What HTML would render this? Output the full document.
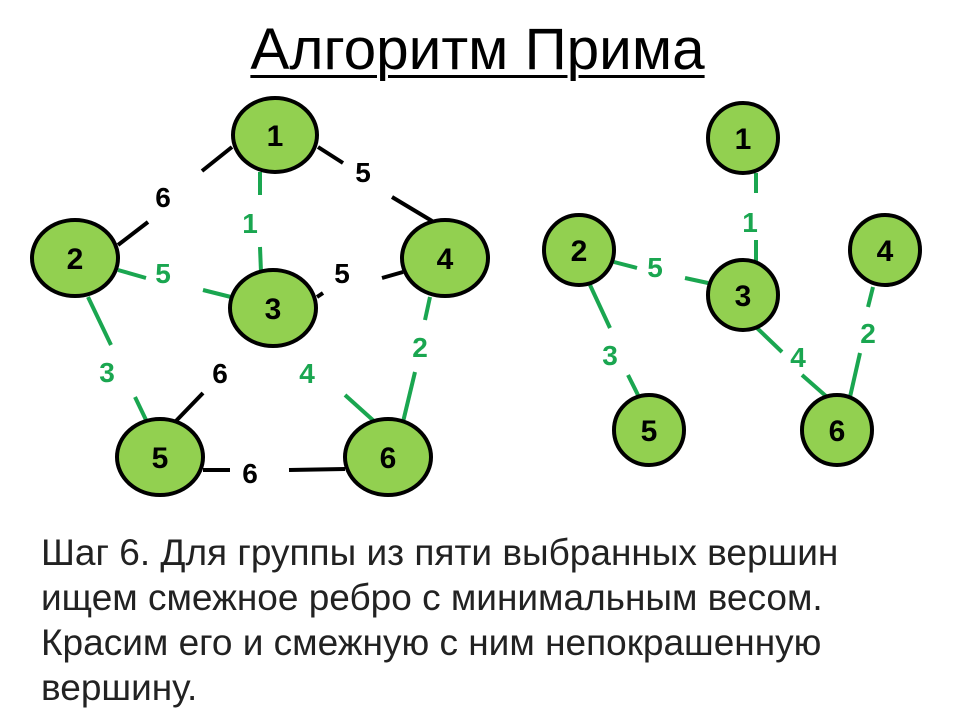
<!DOCTYPE html>
<html><head><meta charset="utf-8"><style>
body{margin:0;background:#fff;width:960px;height:720px;overflow:hidden;position:relative;font-family:"Liberation Sans",sans-serif}
.t{position:absolute;left:0;width:955px;top:21px;text-align:center;font-size:58.5px;line-height:58px;text-decoration:underline;text-decoration-thickness:3px;text-underline-offset:6px;color:#000}
.b{position:absolute;left:41px;top:530px;font-size:37px;line-height:45px;color:#222;white-space:nowrap}
</style></head><body>
<div class="t">Алгоритм Прима</div>
<svg width="960" height="720" style="position:absolute;left:0;top:0" font-family="Liberation Sans" font-weight="bold">
<g stroke-width="4" fill="none">
<g stroke="#000">
<line x1="202" y1="171" x2="232" y2="147"/><line x1="118" y1="245" x2="148" y2="222"/>
<line x1="318" y1="147" x2="343" y2="163"/><line x1="392" y1="197" x2="432" y2="221"/>
<line x1="382" y1="278" x2="403" y2="272"/><line x1="317" y1="297" x2="323" y2="293"/>
<line x1="175" y1="422" x2="203" y2="393"/>
<line x1="203" y1="470" x2="230" y2="470"/><line x1="289" y1="470" x2="345" y2="469"/>
</g>
<g stroke="#1aa650">
<line x1="260" y1="172" x2="260" y2="195"/><line x1="260" y1="247" x2="261" y2="272"/>
<line x1="118" y1="270" x2="146" y2="278"/><line x1="203" y1="290" x2="231" y2="297"/>
<line x1="88" y1="297" x2="111" y2="345"/><line x1="135" y1="397" x2="147" y2="422"/>
<line x1="345" y1="395" x2="375" y2="422"/>
<line x1="430" y1="297" x2="425" y2="320"/><line x1="415" y1="372" x2="403" y2="422"/>
<line x1="756" y1="173" x2="756" y2="193"/><line x1="756" y1="240" x2="756" y2="262"/>
<line x1="614" y1="262" x2="637" y2="268"/><line x1="685" y1="278" x2="708" y2="283"/>
<line x1="590" y1="285" x2="610" y2="328"/><line x1="628" y1="375" x2="638" y2="395"/>
<line x1="757" y1="328" x2="782" y2="352"/><line x1="802" y1="375" x2="827" y2="397"/>
<line x1="873" y1="287" x2="868" y2="307"/><line x1="860" y1="353" x2="850" y2="397"/>
</g>
</g>
<g fill="#92d050" stroke="#000" stroke-width="4">
<ellipse cx="275" cy="135" rx="42" ry="37"/><ellipse cx="75" cy="258" rx="43" ry="38"/>
<ellipse cx="273" cy="308" rx="43" ry="38"/><ellipse cx="445" cy="258" rx="43" ry="38"/>
<ellipse cx="160" cy="457" rx="43" ry="38"/><ellipse cx="388" cy="457" rx="43" ry="38"/>
<circle cx="743" cy="138" r="35"/><circle cx="579" cy="250" r="35"/><circle cx="743" cy="295" r="35"/>
<circle cx="885" cy="250" r="35"/><circle cx="649" cy="430" r="35"/><circle cx="837" cy="430" r="35"/>
</g>
<g font-size="30" text-anchor="middle" fill="#000">
<text x="275" y="146">1</text><text x="75" y="269">2</text><text x="273" y="319">3</text>
<text x="445" y="269">4</text><text x="160" y="468">5</text><text x="388" y="468">6</text>
<text x="743" y="149">1</text><text x="579" y="261">2</text><text x="743" y="306">3</text>
<text x="885" y="261">4</text><text x="649" y="441">5</text><text x="837" y="441">6</text>
</g>
<g font-size="28" text-anchor="middle" fill="#000">
<text x="163" y="207">6</text><text x="363" y="182">5</text><text x="342" y="283">5</text>
<text x="220" y="383">6</text><text x="250" y="483">6</text>
</g>
<g font-size="28" text-anchor="middle" fill="#1aa650">
<text x="250" y="233">1</text><text x="163" y="283">5</text><text x="107" y="382">3</text>
<text x="307" y="383">4</text><text x="420" y="357">2</text>
<text x="750" y="232">1</text><text x="655" y="277">5</text><text x="610" y="365">3</text>
<text x="798" y="367">4</text><text x="868" y="343">2</text>
</g>
</svg>
<div class="b">Шаг 6. Для группы из пяти выбранных вершин<br>ищем смежное ребро с минимальным весом.<br>Красим его и смежную с ним непокрашенную<br>вершину.</div>
</body></html>
